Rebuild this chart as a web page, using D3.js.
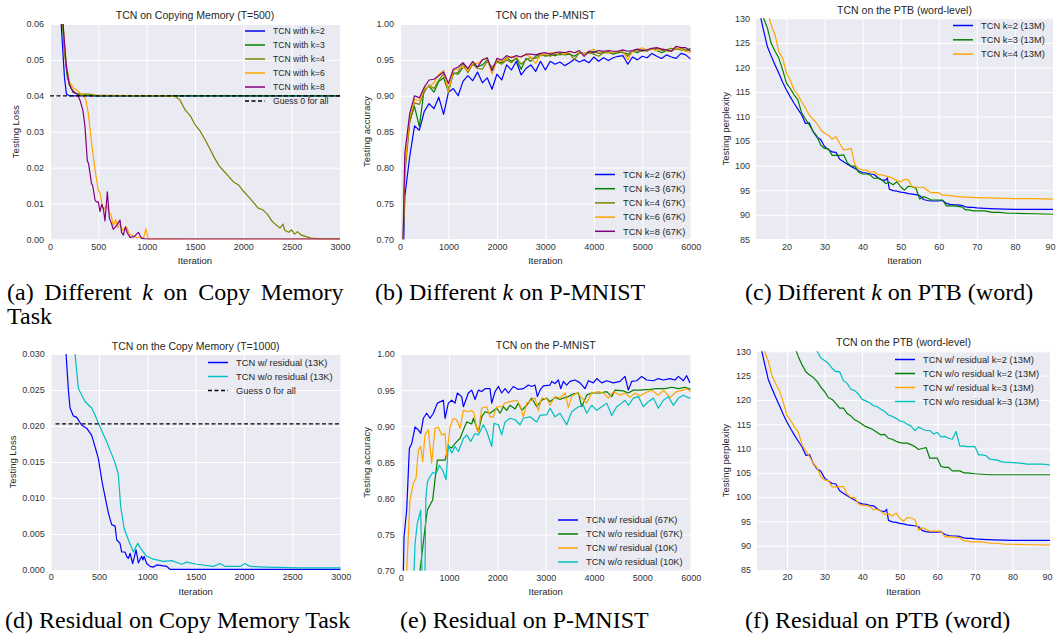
<!DOCTYPE html>
<html>
<head>
<meta charset="utf-8">
<script src="https://cdn.jsdelivr.net/npm/d3@7"></script>
<style>
  body { margin: 0; background: #fff; }
  svg { display: block; }
  .tick text { font-family: 'Liberation Sans', Arial, sans-serif; fill: #333; }
</style>
</head>
<body>
<script>
// ---- panel (a): copy memory T=500, different k  [iteration, loss]
const copyK2 = [[80,0.08],[120,0.058],[150,0.045],[170,0.0405],[200,0.04],[3000,0.04]];
const copyK3 = [[100,0.08],[130,0.06],[150,0.052],[180,0.045],[220,0.042],[260,0.0408],[320,0.0402],[400,0.0401],[500,0.04],[3000,0.04]];
const copyK4 = [[110,0.08],[140,0.058],[170,0.048],[200,0.0435],[240,0.041],[300,0.0405],[400,0.0405],[500,0.0401],[1200,0.04],[1300,0.0398],[1345,0.0388],[1400,0.036],[1450,0.0345],[1500,0.032],[1550,0.0303],[1600,0.028],[1650,0.0255],[1700,0.0228],[1750,0.0205],[1800,0.019],[1850,0.0175],[1900,0.016],[1950,0.0152],[2000,0.0135],[2050,0.012],[2100,0.0105],[2150,0.0088],[2200,0.0083],[2250,0.007],[2300,0.005],[2350,0.0038],[2380,0.0032],[2410,0.0043],[2430,0.0025],[2470,0.002],[2500,0.0027],[2530,0.0015],[2560,0.0022],[2600,0.0012],[2650,0.0008],[2700,0.0004],[2800,0.0002],[2900,0.0002],[3000,0.0001]];
const copyK6 = [[110,0.08],[130,0.062],[160,0.05],[200,0.044],[250,0.042],[280,0.0416],[320,0.0405],[345,0.0402],[370,0.039],[397,0.035],[431,0.0267],[466,0.0193],[500,0.0137],[517,0.013],[540,0.0095],[560,0.0085],[586,0.0095],[610,0.0075],[630,0.007],[655,0.004],[680,0.0055],[700,0.0032],[724,0.0045],[750,0.0025],[793,0.0035],[820,0.0015],[862,0.001],[900,0.0005],[940,0.0007],[966,0.0003],[993,0.003],[1017,0.0001],[1200,0.0002],[1400,0.0001],[3000,0.0001]];
const copyK8 = [[110,0.08],[140,0.058],[170,0.048],[200,0.043],[240,0.041],[280,0.0405],[310,0.0388],[340,0.036],[362,0.0314],[386,0.022],[400,0.021],[414,0.0184],[430,0.0155],[441,0.0151],[466,0.011],[480,0.0105],[500,0.0105],[517,0.0078],[535,0.0098],[552,0.0085],[569,0.0052],[593,0.0133],[614,0.006],[635,0.0045],[655,0.0028],[690,0.004],[724,0.0054],[740,0.002],[759,0.0012],[780,0.0035],[800,0.0018],[828,0.0006],[870,0.0008],[914,0.002],[948,0.0003],[1000,0.0001],[3000,0.0001]];
const copyGuess500 = [[0,0.04],[3000,0.04]];

// ---- panel (b): P-MNIST, different k (every 100 iterations)
const mnistIters = d3.range(0, 6001, 100);
const mnistK2 = [0.5,0.76,0.815,0.858,0.852,0.878,0.889,0.882,0.898,0.874,0.905,0.91,0.90,0.92,0.928,0.921,0.933,0.918,0.925,0.909,0.93,0.922,0.943,0.936,0.948,0.929,0.938,0.943,0.934,0.948,0.936,0.948,0.944,0.947,0.942,0.946,0.951,0.947,0.95,0.946,0.954,0.948,0.953,0.949,0.953,0.955,0.956,0.944,0.954,0.95,0.955,0.953,0.959,0.955,0.952,0.957,0.954,0.952,0.959,0.957,0.951];
const mnistK3 = [0.5,0.80,0.865,0.885,0.857,0.91,0.913,0.905,0.92,0.925,0.905,0.932,0.93,0.94,0.935,0.945,0.94,0.943,0.95,0.935,0.948,0.946,0.953,0.948,0.952,0.937,0.952,0.948,0.955,0.958,0.955,0.957,0.956,0.959,0.957,0.958,0.955,0.96,0.959,0.96,0.962,0.959,0.96,0.961,0.958,0.96,0.961,0.958,0.962,0.96,0.964,0.962,0.966,0.963,0.96,0.963,0.962,0.966,0.964,0.963,0.966];
const mnistK4 = [0.5,0.79,0.862,0.89,0.888,0.905,0.915,0.91,0.922,0.93,0.91,0.93,0.933,0.945,0.932,0.944,0.938,0.937,0.948,0.94,0.947,0.944,0.95,0.946,0.953,0.944,0.95,0.953,0.952,0.956,0.957,0.955,0.958,0.957,0.958,0.959,0.95,0.96,0.958,0.96,0.958,0.955,0.96,0.96,0.959,0.962,0.96,0.955,0.962,0.963,0.962,0.964,0.965,0.966,0.963,0.964,0.966,0.965,0.966,0.964,0.963];
const mnistK6 = [0.5,0.80,0.87,0.895,0.893,0.91,0.913,0.918,0.93,0.935,0.905,0.935,0.938,0.94,0.935,0.945,0.945,0.95,0.952,0.93,0.95,0.948,0.952,0.955,0.953,0.955,0.957,0.954,0.945,0.957,0.958,0.96,0.959,0.961,0.958,0.962,0.96,0.961,0.958,0.962,0.965,0.96,0.962,0.961,0.96,0.962,0.963,0.95,0.962,0.964,0.967,0.963,0.965,0.963,0.966,0.963,0.962,0.967,0.965,0.962,0.96];
const mnistK8 = [0.5,0.82,0.875,0.9,0.897,0.912,0.922,0.923,0.928,0.933,0.917,0.937,0.94,0.946,0.938,0.948,0.94,0.95,0.953,0.935,0.952,0.95,0.956,0.953,0.956,0.954,0.958,0.958,0.957,0.959,0.96,0.958,0.96,0.961,0.96,0.962,0.96,0.963,0.955,0.962,0.96,0.963,0.962,0.963,0.962,0.962,0.964,0.962,0.963,0.965,0.963,0.964,0.966,0.967,0.965,0.964,0.962,0.969,0.967,0.967,0.962];

// ---- panel (c)/(f): PTB word-level  [epoch, perplexity]
const ptbK2 = [[12,136],[13,131],[14,127.5],[15,124.2],[16,122.3],[17,120.5],[18,118.8],[19,117],[20,115.4],[21,114],[22,112.7],[23,111.5],[24,110.3],[25,108.6],[26,108.7],[27,106.9],[28,105.8],[29,105.3],[30,103.9],[31,103.3],[32,102.8],[33,102.7],[34,101.3],[35,100.8],[36,100.3],[37,99.8],[38,99.4],[39,98.9],[40,98.6],[41,98.5],[42,98.3],[43,98.2],[44,97.6],[45,97.1],[46,97.0],[46.5,97.5],[47,95.2],[48,94.9],[49,94.8],[50,94.6],[51,94.5],[52,94.3],[53,94.2],[54,94.1],[55,93.9],[56,93.1],[57,92.9],[58,92.8],[59,92.8],[60,92.8],[61,92.9],[62,92.3],[63,92.1],[64,92.0],[65,92.0],[66,91.9],[67,91.6],[68,91.5],[69,91.5],[70,91.4],[72,91.3],[75,91.2],[80,91.1],[85,91.1],[90,91.1]];
const ptbK3 = [[13,134],[14,130],[15,128],[16,124.9],[17,123.3],[18,121.9],[19,119.5],[20,116.8],[21,115.7],[22,114.4],[23,113.4],[24,110.7],[25,109.5],[26,108.3],[27,107],[28,106.0],[29,104.2],[30,103.5],[31,103.4],[32,102.1],[33,102.1],[34,102.1],[35,102.2],[36,100.6],[37,99.9],[38,99.9],[39,98.6],[40,98.3],[41,98.3],[42,98.1],[43,97.4],[44,97.5],[45,97.1],[46,96.4],[47,96.6],[48,96.1],[49,96.7],[50,95.7],[51,95.0],[52,95.8],[53,95.7],[54,95.4],[55,93.2],[56,93.7],[57,93.4],[58,93.0],[59,93.0],[60,93.0],[61,93.0],[62,91.8],[63,91.8],[64,91.8],[65,91.7],[66,91.6],[67,91.0],[68,91.0],[69,90.8],[70,90.8],[72,90.8],[74,90.5],[76,90.5],[78,90.3],[80,90.3],[85,90.2],[90,90.1]];
const ptbK4 = [[14,136],[15,132],[15.5,130],[16,128.6],[17,126.6],[18,123.2],[19,121.9],[20,118.8],[21,117.4],[22,115.4],[23,114.4],[24,113.0],[25,111.7],[26,110.3],[27,109.4],[28,108.6],[29,107.3],[30,106.6],[31,106.2],[32,105.4],[33,105.9],[34,104.5],[35,103.2],[36,103.3],[37,103.5],[38,100.1],[39,99.4],[40,99.1],[41,99.1],[42,98.6],[43,98.8],[44,98.1],[45,98.1],[46,97.9],[47,97.7],[48,97.4],[49,97.0],[50,96.7],[51,97.2],[52,97.1],[53,95.7],[54,95.6],[55,95.6],[56,95.6],[57,95.0],[58,94.5],[59,94.5],[60,94.5],[61,94.0],[62,94.0],[63,93.9],[64,93.8],[65,93.7],[67,93.6],[70,93.5],[75,93.4],[80,93.3],[85,93.3],[90,93.2]];
const ptbNoResK2 = [[21,134],[22,131],[23,128.9],[24,127.2],[25,125.8],[26,125.1],[27,124.6],[28,123.8],[29,122.6],[30,121.7],[31,120.5],[32,120.1],[33,119.3],[34,118.3],[35,118.3],[36,117.2],[37,116.7],[38,115.9],[39,115.5],[40,115.0],[41,114.5],[42,114.2],[43,113.8],[44,113.3],[45,112.8],[46,112.9],[47,112.1],[48,111.9],[49,111.5],[50,111.2],[51,111.1],[52,111.1],[53,110.8],[54,110.4],[55,109.8],[56,110.0],[57,110.2],[58,108.0],[59,108.0],[60,108.0],[61,106.3],[62,106.1],[63,106.1],[64,105.4],[65,105.4],[66,105.4],[67,105.0],[68,105.0],[70,104.8],[72,104.7],[74,104.6],[80,104.6],[90,104.6]];
const ptbNoResK3 = [[27,133],[28,130],[29,128.6],[30,128.1],[31,127.5],[32,126.5],[33,125.8],[34,125.8],[35,124.0],[36,123.4],[37,122.2],[38,121.9],[39,121.2],[40,120.1],[41,119.8],[42,119.4],[43,118.8],[44,118.6],[45,118.1],[46,117.6],[47,116.9],[48,116.6],[49,116.2],[50,115.7],[51,115.5],[52,115.0],[53,114.6],[54,113.7],[55,114.4],[56,114.0],[57,113.7],[58,113.7],[59,113.0],[60,113.3],[61,112.4],[62,112.5],[63,112.1],[64,111.9],[65,113.5],[66,110.5],[67,110.5],[68,110.4],[69,110.4],[70,110.4],[71,108.7],[72,108.7],[73,108.5],[74,107.8],[75,107.7],[76,107.6],[77,107.3],[78,107.2],[80,107.1],[82,107.0],[84,106.8],[86,106.8],[88,106.8],[90,106.6]];

// ---- panel (d): copy memory T=1000, residual  [iteration, loss]
const copyRes = [[130,0.04],[159,0.030],[183,0.025],[200,0.0225],[234,0.0214],[269,0.0212],[321,0.0201],[372,0.0197],[424,0.0187],[459,0.0171],[493,0.0155],[528,0.0125],[562,0.0102],[597,0.0079],[631,0.0063],[666,0.0061],[683,0.0042],[717,0.0037],[734,0.0025],[769,0.0025],[790,0.0018],[803,0.0016],[821,0.0023],[848,0.0009],[883,0.0028],[907,0.001],[941,0.0019],[955,0.0014],[966,0.0019],[993,0.0009],[1028,0.0005],[1060,0.0004],[1097,0.0007],[1150,0.0006],[1200,0.0005],[1234,0.0001],[1400,0.0001],[3000,0.0001]];
const copyNoRes = [[220,0.035],[252,0.030],[286,0.0252],[355,0.0234],[424,0.0225],[459,0.0215],[510,0.0199],[579,0.0178],[648,0.0155],[683,0.0141],[700,0.0132],[724,0.0088],[759,0.0058],[803,0.0042],[855,0.0025],[900,0.0037],[941,0.0028],[993,0.0019],[1062,0.0015],[1166,0.0012],[1252,0.0013],[1355,0.0008],[1407,0.0011],[1510,0.0008],[1683,0.0005],[1752,0.0009],[1803,0.0005],[1959,0.0005],[2010,0.0009],[2062,0.0005],[2234,0.0004],[2579,0.0003],[3000,0.0003]];
const copyGuess1000 = [[50,0.0203],[3000,0.0203]];

// ---- panel (e): P-MNIST, residual  [iteration, accuracy]
const mnistRes67 = [[40,0.6],[55,0.70],[69,0.747],[124,0.784],[179,0.869],[228,0.876],[297,0.899],[366,0.895],[414,0.89],[469,0.911],[538,0.918],[607,0.911],[676,0.918],[759,0.932],[883,0.936],[917,0.911],[986,0.932],[1055,0.936],[1124,0.932],[1172,0.946],[1262,0.941],[1297,0.927],[1400,0.946],[1469,0.95],[1538,0.937],[1607,0.95],[1676,0.948],[1745,0.952],[1848,0.952],[1883,0.932],[1952,0.948],[2021,0.955],[2090,0.946],[2159,0.952],[2228,0.946],[2331,0.955],[2434,0.951],[2538,0.952],[2641,0.957],[2710,0.955],[2779,0.957],[2828,0.941],[2883,0.95],[2952,0.956],[3090,0.957],[3124,0.962],[3193,0.959],[3262,0.964],[3310,0.952],[3366,0.962],[3434,0.957],[3503,0.962],[3607,0.964],[3710,0.96],[3814,0.952],[3883,0.963],[3986,0.96],[4055,0.966],[4159,0.96],[4262,0.963],[4400,0.96],[4538,0.962],[4641,0.969],[4710,0.95],[4779,0.962],[4883,0.963],[4986,0.969],[5090,0.964],[5228,0.963],[5331,0.966],[5434,0.964],[5572,0.966],[5676,0.964],[5745,0.969],[5848,0.963],[5917,0.97],[5986,0.96]];
const mnistNoRes67 = [[380,0.6],[400,0.70],[503,0.759],[552,0.784],[607,0.791],[662,0.798],[710,0.826],[759,0.853],[828,0.853],[917,0.853],[986,0.872],[1055,0.87],[1124,0.876],[1193,0.881],[1228,0.883],[1297,0.895],[1366,0.906],[1469,0.903],[1503,0.911],[1607,0.892],[1676,0.913],[1745,0.92],[1848,0.918],[1986,0.925],[2055,0.918],[2124,0.927],[2193,0.922],[2262,0.929],[2366,0.924],[2434,0.932],[2503,0.922],[2607,0.929],[2710,0.939],[2814,0.927],[2917,0.936],[3021,0.939],[3090,0.934],[3193,0.94],[3297,0.937],[3366,0.939],[3469,0.941],[3572,0.945],[3676,0.946],[3745,0.927],[3848,0.943],[3952,0.946],[4124,0.946],[4262,0.948],[4366,0.941],[4434,0.95],[4607,0.949],[4710,0.946],[4814,0.95],[4952,0.95],[5159,0.951],[5297,0.952],[5469,0.952],[5607,0.954],[5745,0.952],[5883,0.954],[6000,0.951]];
const mnistRes10 = [[100,0.6],[124,0.70],[193,0.798],[262,0.821],[317,0.828],[366,0.867],[414,0.872],[455,0.851],[503,0.888],[572,0.895],[641,0.849],[710,0.897],[779,0.899],[848,0.888],[917,0.89],[952,0.858],[1021,0.899],[1090,0.911],[1159,0.909],[1228,0.897],[1297,0.922],[1400,0.92],[1469,0.922],[1517,0.918],[1572,0.897],[1607,0.892],[1676,0.925],[1779,0.927],[1848,0.913],[1917,0.913],[1986,0.927],[2090,0.927],[2159,0.932],[2262,0.934],[2400,0.936],[2469,0.929],[2538,0.913],[2607,0.932],[2710,0.936],[2779,0.939],[2848,0.922],[2917,0.939],[3021,0.938],[3090,0.929],[3193,0.941],[3297,0.939],[3400,0.946],[3469,0.926],[3538,0.941],[3641,0.946],[3745,0.94],[3848,0.932],[3952,0.946],[4090,0.948],[4193,0.946],[4297,0.939],[4400,0.948],[4538,0.943],[4641,0.946],[4745,0.94],[4848,0.946],[4952,0.942],[5055,0.946],[5193,0.95],[5331,0.943],[5434,0.95],[5572,0.94],[5710,0.948],[5848,0.95],[5917,0.952],[6000,0.948]];
const mnistNoRes10 = [[260,0.6],[276,0.70],[297,0.738],[345,0.766],[414,0.784],[440,0.70],[455,0.6],[483,0.6],[503,0.70],[520,0.80],[552,0.823],[607,0.83],[662,0.836],[731,0.834],[800,0.846],[869,0.839],[938,0.826],[986,0.874],[1055,0.863],[1124,0.872],[1193,0.865],[1297,0.883],[1366,0.888],[1448,0.879],[1538,0.89],[1607,0.888],[1710,0.902],[1779,0.893],[1883,0.872],[1931,0.904],[2021,0.902],[2090,0.888],[2159,0.906],[2262,0.911],[2366,0.909],[2469,0.902],[2538,0.911],[2676,0.913],[2814,0.906],[2883,0.915],[3021,0.916],[3090,0.925],[3193,0.913],[3297,0.918],[3434,0.902],[3538,0.92],[3676,0.927],[3779,0.929],[3848,0.918],[3952,0.929],[4055,0.922],[4159,0.927],[4262,0.932],[4366,0.915],[4469,0.927],[4572,0.932],[4641,0.936],[4710,0.929],[4814,0.939],[4917,0.941],[5021,0.927],[5124,0.934],[5228,0.939],[5331,0.925],[5434,0.936],[5538,0.941],[5641,0.929],[5745,0.939],[5848,0.943],[5931,0.94],[6000,0.939]];

// tick labels
const copyXTicks = d3.range(0, 3001, 500);
const mnistXTicks = d3.range(0, 6001, 1000);
const ptbXTicks = d3.range(20, 91, 10);
const copy500YTicks = [0, 0.01, 0.02, 0.03, 0.04, 0.05, 0.06];
const copy1000YTicks = [0, 0.005, 0.01, 0.015, 0.02, 0.025, 0.03];
const mnistYTicks = [0.70, 0.75, 0.80, 0.85, 0.90, 0.95, 1.00];
const ptbYTicks = [85, 90, 95, 100, 105, 110, 115, 120, 125, 130];

const C = { blue: '#0000ff', green: '#008000', olive: '#808000', orange: '#ffa500', purple: '#800080', cyan: '#00bfbf', black: '#000' };
const SANS = "'Liberation Sans', Arial, sans-serif";

const svg = d3.select('body').append('svg').attr('width', 1057).attr('height', 635);
svg.append('rect').attr('width', 1057).attr('height', 635).attr('fill', '#fff');

let clipId = 0;
function panel(p) {
  const g = svg.append('g');
  const x = d3.scaleLinear().domain(p.xDomain).range([p.left, p.right]);
  const y = d3.scaleLinear().domain(p.yDomain).range([p.bottom, p.top]);
  const w = p.right - p.left, h = p.bottom - p.top;

  g.append('rect').attr('x', p.left).attr('y', p.top).attr('width', w).attr('height', h).attr('fill', '#eaeaf2');

  const xa = g.append('g').attr('transform', `translate(0,${p.bottom})`)
    .call(d3.axisBottom(x).tickValues(p.xTicks).tickSize(-h).tickPadding(4).tickFormat(d3.format('d')));
  const ya = g.append('g').attr('transform', `translate(${p.left},0)`)
    .call(d3.axisLeft(y).tickValues(p.yTicks).tickSize(-w).tickPadding(6).tickFormat(d3.format(p.yFormat)));
  [xa, ya].forEach(a => {
    a.select('.domain').remove();
    a.selectAll('.tick line').attr('stroke', '#fff').attr('stroke-width', 1);
    a.selectAll('.tick text').attr('font-size', p.tickSize || 9).attr('font-family', SANS);
  });
  // the last x label sits on the page edge in the PTB panels; nudge it inside
  if (p.right > 1045) xa.selectAll('.tick:last-of-type text').attr('dx', -3);

  const id = 'clip' + (clipId++);
  g.append('clipPath').attr('id', id).append('rect')
    .attr('x', p.left).attr('y', p.top).attr('width', w).attr('height', h);

  const line = d3.line().x(d => x(d[0])).y(d => y(d[1]));
  const lines = g.append('g').attr('clip-path', `url(#${id})`);
  p.series.forEach(s => {
    lines.append('path').datum(s.data).attr('d', line)
      .attr('fill', 'none').attr('stroke', s.color).attr('stroke-width', 1.2)
      .attr('stroke-dasharray', s.dash ? '4,2.5' : null).attr('stroke-linejoin', 'round');
  });

  // title and axis labels
  g.append('text').attr('x', (p.left + p.right) / 2).attr('y', p.titleY)
    .attr('text-anchor', 'middle').attr('font-family', SANS).attr('font-size', 10.5).attr('fill', '#262626').text(p.title);
  g.append('text').attr('x', (p.left + p.right) / 2).attr('y', p.bottom + 24.5)
    .attr('text-anchor', 'middle').attr('font-family', SANS).attr('font-size', 9.5).attr('fill', '#262626').text('Iteration');
  g.append('text').attr('transform', `translate(${p.ylabelX},${(p.top + p.bottom) / 2}) rotate(-90)`)
    .attr('text-anchor', 'middle').attr('font-family', SANS).attr('font-size', 9.5).attr('fill', '#262626').text(p.ylabel);

  // legend
  const L = p.legend;
  const lg = g.append('g').selectAll('g').data(p.series).join('g')
    .attr('transform', (d, i) => `translate(${L.x},${L.y + i * L.step})`);
  lg.append('line').attr('x1', 0).attr('x2', 20).attr('y1', 0).attr('y2', 0)
    .attr('stroke', d => d.color).attr('stroke-width', 1.5)
    .attr('stroke-dasharray', d => d.dash ? '4,2.5' : null);
  lg.append('text').attr('x', 28).attr('y', 0).attr('dy', '0.35em')
    .attr('font-family', SANS).attr('font-size', L.font).attr('fill', '#262626').text(d => d.label);
}

panel({
  left: 50, right: 340, top: 24, bottom: 239.5, xDomain: [0, 3000], yDomain: [0, 0.06],
  xTicks: copyXTicks, yTicks: copy500YTicks, yFormat: '.2f',
  title: 'TCN on Copying Memory (T=500)', titleY: 19, ylabel: 'Testing Loss', ylabelX: 19,
  legend: { x: 245, y: 31, step: 14, font: 8.6 },
  series: [
    { data: copyK2, color: C.blue, label: 'TCN with k=2' },
    { data: copyK3, color: C.green, label: 'TCN with k=3' },
    { data: copyK4, color: C.olive, label: 'TCN with k=4' },
    { data: copyK6, color: C.orange, label: 'TCN with k=6' },
    { data: copyK8, color: C.purple, label: 'TCN with k=8' },
    { data: copyGuess500, color: C.black, label: 'Guess 0 for all', dash: true }
  ]
});

panel({
  left: 400, right: 690.7, top: 24, bottom: 239.3, xDomain: [0, 6000], yDomain: [0.7, 1.0],
  xTicks: mnistXTicks, yTicks: mnistYTicks, yFormat: '.2f',
  title: 'TCN on the P-MNIST', titleY: 19, ylabel: 'Testing accuracy', ylabelX: 370,
  legend: { x: 595, y: 174.5, step: 14.2, font: 9.3 },
  series: [
    { data: mnistIters.map((t, i) => [t, mnistK2[i]]), color: C.blue, label: 'TCN k=2 (67K)' },
    { data: mnistIters.map((t, i) => [t, mnistK3[i]]), color: C.green, label: 'TCN k=3 (67K)' },
    { data: mnistIters.map((t, i) => [t, mnistK4[i]]), color: C.olive, label: 'TCN k=4 (67K)' },
    { data: mnistIters.map((t, i) => [t, mnistK6[i]]), color: C.orange, label: 'TCN k=6 (67K)' },
    { data: mnistIters.map((t, i) => [t, mnistK8[i]]), color: C.purple, label: 'TCN k=8 (67K)' }
  ]
});

panel({
  left: 756, right: 1053, top: 18.3, bottom: 239.3, xDomain: [12, 90], yDomain: [85, 130],
  xTicks: ptbXTicks, yTicks: ptbYTicks, yFormat: 'd',
  title: 'TCN on the PTB (word-level)', titleY: 13.5, ylabel: 'Testing perplexity', ylabelX: 729,
  legend: { x: 953, y: 25.5, step: 14.3, font: 9.3 },
  series: [
    { data: ptbK2, color: C.blue, label: 'TCN k=2 (13M)' },
    { data: ptbK3, color: C.green, label: 'TCN k=3 (13M)' },
    { data: ptbK4, color: C.orange, label: 'TCN k=4 (13M)' }
  ]
});

panel({
  left: 50.7, right: 340.7, top: 354, bottom: 570, xDomain: [0, 3000], yDomain: [0, 0.03],
  xTicks: copyXTicks, yTicks: copy1000YTicks, yFormat: '.3f',
  title: 'TCN on the Copy Memory (T=1000)', titleY: 350, ylabel: 'Testing Loss', ylabelX: 16,
  legend: { x: 208, y: 362.5, step: 14, font: 9.3 },
  series: [
    { data: copyRes, color: C.blue, label: 'TCN w/ residual (13K)' },
    { data: copyNoRes, color: C.cyan, label: 'TCN w/o residual (13K)' },
    { data: copyGuess1000, color: C.black, label: 'Guess 0 for all', dash: true }
  ]
});

panel({
  left: 400.7, right: 690.7, top: 354, bottom: 570.7, xDomain: [0, 6000], yDomain: [0.7, 1.0],
  xTicks: mnistXTicks, yTicks: mnistYTicks, yFormat: '.2f',
  title: 'TCN on the P-MNIST', titleY: 349, ylabel: 'Testing accuracy', ylabelX: 370,
  legend: { x: 558, y: 520, step: 14, font: 9.3 },
  series: [
    { data: mnistRes67, color: C.blue, label: 'TCN w/ residual (67K)' },
    { data: mnistNoRes67, color: C.green, label: 'TCN w/o residual (67K)' },
    { data: mnistRes10, color: C.orange, label: 'TCN w/ residual (10K)' },
    { data: mnistNoRes10, color: C.cyan, label: 'TCN w/o residual (10K)' }
  ]
});

panel({
  left: 757, right: 1050, top: 351.3, bottom: 570, xDomain: [12, 90], yDomain: [85, 130],
  xTicks: ptbXTicks, yTicks: ptbYTicks, yFormat: 'd',
  title: 'TCN on the PTB (word-level)', titleY: 346, ylabel: 'Testing perplexity', ylabelX: 729,
  legend: { x: 895, y: 359.5, step: 14, font: 9.3 },
  series: [
    { data: ptbK2, color: C.blue, label: 'TCN w/ residual k=2 (13M)' },
    { data: ptbNoResK2, color: C.green, label: 'TCN w/o residual k=2 (13M)' },
    { data: ptbK3, color: C.orange, label: 'TCN w/ residual k=3 (13M)' },
    { data: ptbNoResK3, color: C.cyan, label: 'TCN w/o residual k=3 (13M)' }
  ]
});

// captions
const SERIF = "'Liberation Serif', 'Times New Roman', serif";
const captions = [
  { x: 7, y: 300, parts: ['(a) Different ', 'k', ' on Copy Memory'], ws: 4.6 },
  { x: 7, y: 324, parts: ['Task'] },
  { x: 375, y: 300, parts: ['(b) Different ', 'k', ' on P-MNIST'] },
  { x: 745, y: 300, parts: ['(c) Different ', 'k', ' on PTB (word)'] },
  { x: 5, y: 628, parts: ['(d) Residual on Copy Memory Task'] },
  { x: 400, y: 628, parts: ['(e) Residual on P-MNIST'] },
  { x: 745, y: 628, parts: ['(f) Residual on PTB (word)'] }
];
captions.forEach(c => {
  const t = svg.append('text').attr('x', c.x).attr('y', c.y)
    .attr('font-family', SERIF).attr('font-size', 24).attr('fill', '#000')
    .style('word-spacing', (c.ws || 0) + 'px');
  c.parts.forEach((s, i) => t.append('tspan').attr('font-style', i === 1 ? 'italic' : null).text(s));
});
</script>
</body>
</html>
